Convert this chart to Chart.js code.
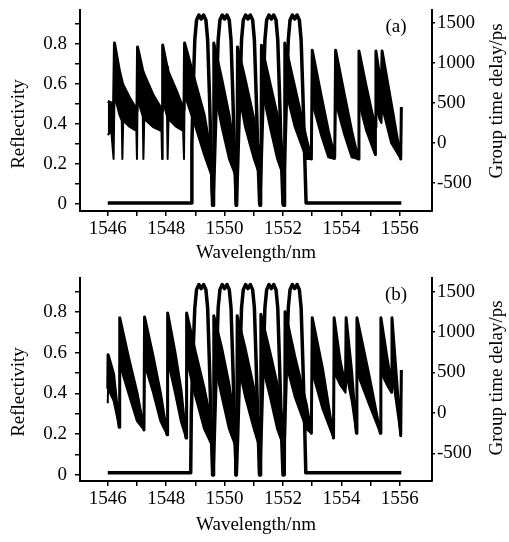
<!DOCTYPE html>
<html>
<head>
<meta charset="utf-8">
<script src="https://cdn.jsdelivr.net/npm/chart.js@4.4.1/dist/chart.umd.min.js"></script>
<style>
  body { margin: 0; background: #fff; }
  canvas { display: block; }
</style>
</head>
<body>
<canvas id="chartA" width="509" height="270"></canvas>
<canvas id="chartB" width="509" height="272"></canvas>
<script>
// Axis ticks
const wavelengthTicks = [1546, 1547, 1548, 1549, 1550, 1551, 1552, 1553, 1554, 1555, 1556];
const wavelengthLabels = ['1546', '', '1548', '', '1550', '', '1552', '', '1554', '', '1556'];
const reflTicks = [0, 0.1, 0.2, 0.3, 0.4, 0.5, 0.6, 0.7, 0.8, 0.9];
const reflLabels = ['0', '', '0.2', '', '0.4', '', '0.6', '', '0.8', ''];
const delayTicks = [-500, 0, 500, 1000, 1500];
const delayLabels = ['-500', '0', '500', '1000', '1500'];

// Panel (a) reflectivity
const reflWlA = [1546.0, 1548.86,
  1548.88, 1548.93, 1548.98, 1549.04, 1549.12, 1549.2, 1549.28, 1549.36, 1549.42, 1549.48, 1549.55, 1549.6,
  1549.65, 1549.72, 1549.78, 1549.84, 1549.92, 1550.0, 1550.08, 1550.16, 1550.22, 1550.28, 1550.35, 1550.4,
  1550.45, 1550.52, 1550.58, 1550.64, 1550.72, 1550.8, 1550.88, 1550.96, 1551.02, 1551.08, 1551.15, 1551.2,
  1551.25, 1551.32, 1551.38, 1551.44, 1551.52, 1551.6, 1551.68, 1551.76, 1551.82, 1551.88, 1551.95, 1552.0,
  1552.05, 1552.12, 1552.18, 1552.24, 1552.32, 1552.4, 1552.48, 1552.56, 1552.62, 1552.68, 1552.74, 1552.79,
  1556.05];
const reflA = [0.005, 0.005,
  0.3, 0.6, 0.82, 0.92, 0.945, 0.925, 0.945, 0.92, 0.82, 0.55, 0.2, 0.0,
  0.2, 0.55, 0.82, 0.92, 0.945, 0.925, 0.945, 0.92, 0.82, 0.55, 0.2, 0.0,
  0.2, 0.55, 0.82, 0.92, 0.945, 0.925, 0.945, 0.92, 0.82, 0.55, 0.2, 0.0,
  0.2, 0.55, 0.82, 0.92, 0.945, 0.925, 0.945, 0.92, 0.82, 0.55, 0.2, 0.0,
  0.2, 0.55, 0.82, 0.92, 0.945, 0.925, 0.945, 0.92, 0.82, 0.55, 0.25, 0.005,
  0.005];

// Panel (a) group time delay: upper edge and lower edge of the rippled trace
const gdWlA = [1546.0, 1546.12, 1546.2, 1546.23,
  1546.4, 1546.48, 1546.5, 1546.53, 1546.75, 1546.98, 1547.0, 1547.02,
  1547.2, 1547.22, 1547.25, 1547.55, 1547.84, 1547.86, 1547.88,
  1548.03, 1548.05, 1548.08, 1548.35, 1548.58, 1548.61, 1548.63,
  1549.0, 1549.3, 1549.54, 1549.58, 1549.61, 1549.63,
  1549.9, 1550.15, 1550.36, 1550.39, 1550.42, 1550.44,
  1550.7, 1551.0, 1551.19, 1551.21, 1551.24, 1551.26,
  1551.55, 1551.8, 1551.99, 1552.01, 1552.04, 1552.06,
  1552.4, 1552.8, 1552.97, 1553.0,
  1553.3, 1553.55, 1553.77, 1553.8,
  1554.1, 1554.35, 1554.57, 1554.6,
  1554.85, 1555.15, 1555.18, 1555.3, 1555.37, 1555.39,
  1555.7, 1556.03, 1556.05];
const gdTopA = [520, 500, 460, 1250,
  900, 780, 750, 720, 560, 420, 400, 1200,
  900, 880, 850, 600, 420, 400, 1225,
  950, 920, 880, 650, 430, 420, 1250,
  750, 350, -150, -780, -780, 1250,
  800, 350, -150, -780, -780, 1200,
  800, 300, -150, -780, -780, 1220,
  750, 350, -150, -780, -780, 1250,
  700, 50, -200, 1160,
  600, 150, -180, 1160,
  600, 150, -200, 1150,
  700, 200, 1150, 850, 720, 1150,
  500, -200, 450];
const gdLowA = [100, 150, -200, 600,
  350, 280, -200, 280, 200, 150, -200, 550,
  330, -200, 300, 200, 150, -200, 550,
  330, -200, 300, 200, 150, -200, 600,
  200, -150, -400, -780, -780, 700,
  200, -200, -400, -780, -780, 700,
  200, -200, -400, -780, -780, 700,
  200, -200, -400, -780, -780, 700,
  200, -200, -200, 500,
  100, -180, -200, 500,
  100, -180, -200, 500,
  150, -150, 450, 300, 250, 450,
  0, -200, 450];

// Panel (b) reflectivity
const reflWlB = [1546.0, 1548.84,
  1548.86, 1548.92, 1548.98, 1549.04, 1549.12, 1549.2, 1549.28, 1549.36, 1549.42, 1549.48, 1549.55, 1549.6,
  1549.65, 1549.72, 1549.78, 1549.84, 1549.92, 1550.0, 1550.08, 1550.16, 1550.22, 1550.28, 1550.35, 1550.4,
  1550.45, 1550.52, 1550.58, 1550.64, 1550.72, 1550.8, 1550.88, 1550.96, 1551.02, 1551.08, 1551.15, 1551.2,
  1551.25, 1551.32, 1551.38, 1551.44, 1551.52, 1551.6, 1551.68, 1551.76, 1551.82, 1551.88, 1551.95, 1552.0,
  1552.05, 1552.12, 1552.18, 1552.24, 1552.32, 1552.4, 1552.48, 1552.56, 1552.62, 1552.68, 1552.74, 1552.78,
  1556.05];
const reflB = [0.01, 0.01,
  0.3, 0.6, 0.82, 0.91, 0.935, 0.915, 0.935, 0.91, 0.82, 0.55, 0.2, 0.0,
  0.2, 0.55, 0.82, 0.91, 0.935, 0.915, 0.935, 0.91, 0.82, 0.55, 0.2, 0.0,
  0.2, 0.55, 0.82, 0.91, 0.935, 0.915, 0.935, 0.91, 0.82, 0.55, 0.2, 0.0,
  0.2, 0.55, 0.82, 0.91, 0.935, 0.915, 0.935, 0.91, 0.82, 0.55, 0.2, 0.0,
  0.2, 0.55, 0.82, 0.91, 0.935, 0.915, 0.935, 0.91, 0.82, 0.55, 0.25, 0.01,
  0.01];

// Panel (b) group time delay
const gdWlB = [1546.0, 1546.01, 1546.2, 1546.39, 1546.41,
  1546.7, 1547.0, 1547.24, 1547.26,
  1547.55, 1547.8, 1548.03, 1548.05,
  1548.3, 1548.5, 1548.68, 1548.7,
  1549.0, 1549.3, 1549.56, 1549.58, 1549.61, 1549.63,
  1549.9, 1550.15, 1550.36, 1550.38, 1550.41, 1550.43,
  1550.7, 1551.0, 1551.17, 1551.19, 1551.22, 1551.24,
  1551.55, 1551.8, 1552.0, 1552.02, 1552.05, 1552.07,
  1552.4, 1552.8, 1552.97, 1553.0,
  1553.35, 1553.73, 1553.75,
  1553.95, 1554.14, 1554.16,
  1554.35, 1554.51, 1554.53,
  1554.95, 1555.33, 1555.35,
  1555.55, 1555.71, 1555.73,
  1556.03, 1556.05];
const gdTopB = [300, 720, 480, -175, 1175,
  700, 250, -210, 1185,
  700, 250, -270, 1235,
  750, 300, -310, 1235,
  750, 300, -150, -765, -765, 1200,
  800, 350, -150, -765, -765, 1200,
  800, 300, -150, -765, -765, 1220,
  750, 350, -150, -765, -765, 1250,
  700, 100, -250, 1175,
  550, -310, 1175,
  650, 320, 1175,
  500, -250, 1175,
  450, -250, 1175,
  700, 350, 1175,
  -280, 530];
const gdLowB = [120, 300, 150, -175, 600,
  250, -100, -210, 600,
  250, -100, -270, 650,
  250, -100, -310, 650,
  200, -200, -400, -765, -765, 650,
  200, -200, -400, -765, -765, 650,
  200, -200, -400, -765, -765, 650,
  200, -200, -400, -765, -765, 650,
  200, -200, -250, 500,
  50, -310, 500,
  350, 250, 500,
  150, -250, 500,
  100, -250, 500,
  350, 250, 500,
  -280, 530];

const serif = "'Liberation Serif', 'Times New Roman', serif";
const ink = '#000';

// Draws the rotated axis titles and the panel letter
const panelText = {
  id: 'panelText',
  afterDraw(chart, args, opts) {
    const { ctx, chartArea } = chart;
    ctx.save();
    ctx.fillStyle = ink;
    ctx.font = `19px ${serif}`;
    ctx.textAlign = 'center';
    ctx.textBaseline = 'middle';
    ctx.fillText(opts.letter, chartArea.right - 36, chartArea.top + 17);

    ctx.save();
    ctx.translate(19, chartArea.top + opts.leftTitleY);
    ctx.rotate(-Math.PI / 2);
    ctx.fillText('Reflectivity', 0, 0);
    ctx.restore();

    ctx.save();
    ctx.translate(497, chartArea.top + opts.rightTitleY);
    ctx.rotate(-Math.PI / 2);
    ctx.fillText('Group time delay/ps', 0, 0);
    ctx.restore();
    ctx.restore();
  }
};

function toPoints(xs, ys) {
  return xs.map((x, i) => ({ x: x, y: ys[i] }));
}

// keep the plot frame where the reference has it
function fixWidth(w) {
  return s => { s.width = w; s.paddingTop = 0; s.paddingBottom = 0; };
}

function makeConfig(p) {
  const tickFont = { family: serif, size: 19 };
  return {
    type: 'line',
    data: {
      datasets: [
        {
          label: 'Reflectivity',
          data: toPoints(p.reflWl, p.refl),
          yAxisID: 'yR',
          borderColor: ink,
          borderWidth: 3.5,
          pointRadius: 0,
          fill: false
        },
        {
          label: 'Group time delay',
          data: toPoints(p.gdWl, p.gdTop),
          yAxisID: 'yD',
          borderColor: ink,
          borderWidth: 3,
          pointRadius: 0,
          fill: false
        },
        {
          label: 'Group time delay ripple',
          data: toPoints(p.gdWl, p.gdLow),
          yAxisID: 'yD',
          borderColor: ink,
          borderWidth: 2,
          pointRadius: 0,
          backgroundColor: ink,
          fill: '-1'
        }
      ]
    },
    options: {
      responsive: false,
      animation: false,
      devicePixelRatio: 1,
      layout: { padding: { top: p.top, left: 0, right: 0, bottom: 0 } },
      elements: { line: { tension: 0, borderJoinStyle: 'round' } },
      plugins: {
        legend: { display: false },
        tooltip: { enabled: false },
        panelText: { letter: p.letter, leftTitleY: p.leftTitleY, rightTitleY: p.rightTitleY }
      },
      scales: {
        x: {
          type: 'linear',
          min: 1545.05,
          max: 1557.1,
          afterBuildTicks: s => { s.ticks = wavelengthTicks.map(v => ({ value: v })); },
          afterFit: s => { s.height = p.bottomHeight; s.paddingLeft = 0; s.paddingRight = 0; },
          ticks: {
            autoSkip: false, maxRotation: 0, padding: 2, color: ink, font: tickFont,
            callback: (v, i) => wavelengthLabels[i]
          },
          grid: { drawOnChartArea: false, tickLength: 5, color: ink, lineWidth: 1.5 },
          border: { display: true, color: ink, width: 2 },
          title: { display: true, text: 'Wavelength/nm', color: ink, font: tickFont, padding: { top: 0, bottom: 6 } }
        },
        yR: {
          position: 'left',
          min: p.reflMin,
          max: p.reflMax,
          afterBuildTicks: s => { s.ticks = reflTicks.map(v => ({ value: v })); },
          afterFit: fixWidth(80),
          ticks: {
            autoSkip: false, padding: 8, color: ink, font: tickFont,
            callback: (v, i) => reflLabels[i]
          },
          grid: { drawOnChartArea: false, tickLength: 5, color: ink, lineWidth: 1.5 },
          border: { display: true, color: ink, width: 2 }
        },
        yD: {
          position: 'right',
          min: p.delayMin,
          max: p.delayMax,
          afterBuildTicks: s => { s.ticks = delayTicks.map(v => ({ value: v })); },
          afterFit: fixWidth(77),
          ticks: {
            autoSkip: false, padding: 2, color: ink, font: tickFont,
            callback: (v, i) => delayLabels[i]
          },
          grid: { drawOnChartArea: false, tickLength: 3, color: ink, lineWidth: 1.5 },
          border: { display: true, color: ink, width: 2 }
        }
      }
    },
    plugins: [panelText]
  };
}

new Chart(document.getElementById('chartA'), makeConfig({
  letter: '(a)', top: 10, bottomHeight: 59, leftTitleY: 114, rightTitleY: 91,
  reflMin: -0.035, reflMax: 0.97, delayMin: -850, delayMax: 1662,
  reflWl: reflWlA, refl: reflA, gdWl: gdWlA, gdTop: gdTopA, gdLow: gdLowA
}));

new Chart(document.getElementById('chartB'), makeConfig({
  letter: '(b)', top: 8, bottomHeight: 61, leftTitleY: 114, rightTitleY: 100,
  reflMin: -0.03, reflMax: 0.967, delayMin: -840, delayMax: 1667,
  reflWl: reflWlB, refl: reflB, gdWl: gdWlB, gdTop: gdTopB, gdLow: gdLowB
}));
</script>
</body>
</html>
